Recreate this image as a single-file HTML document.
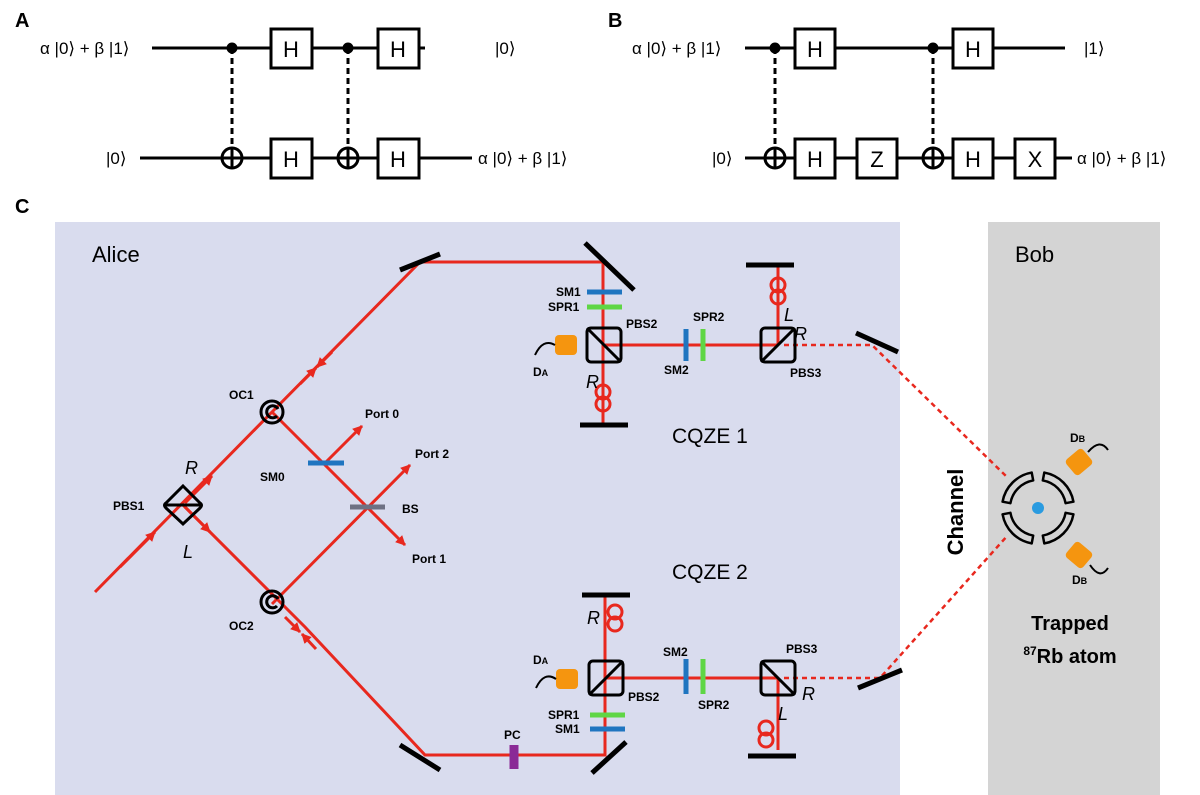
<!DOCTYPE html>
<html><head><meta charset="utf-8"><style>
body{margin:0;background:#fff}
svg{display:block}
text{font-family:"Liberation Sans",sans-serif}
.m{font-family:"Liberation Serif",serif;font-size:17px}
.b{font-weight:bold;font-size:12px}
</style></head><body>
<svg width="1200" height="795" viewBox="0 0 1200 795">
<defs>
<marker id="ar" markerWidth="10" markerHeight="10" refX="9" refY="5" orient="auto" markerUnits="userSpaceOnUse"><path d="M0,0 L10,5 L0,10 Z" fill="#e8281e"/></marker>
<path id="plate" d="M29.5,-20.6 A36,36 0 0 1 29.5,20.6 L22.9,16.1 A28,28 0 0 0 22.9,-16.1 Z"/>
</defs>
<g stroke="#000" stroke-width="3" fill="#fff">
<line x1="152" y1="48" x2="425" y2="48"/><line x1="140" y1="158" x2="472" y2="158"/>
<line x1="232" y1="48" x2="232" y2="148" stroke-dasharray="6,4"/><line x1="348" y1="48" x2="348" y2="148" stroke-dasharray="6,4"/>
<circle cx="232" cy="48" r="4" fill="#000"/><circle cx="348" cy="48" r="4" fill="#000"/>
<circle cx="232" cy="158" r="10" fill="none"/><line x1="232" y1="148" x2="232" y2="168"/>
<circle cx="348" cy="158" r="10" fill="none"/><line x1="348" y1="148" x2="348" y2="168"/>
<rect x="271" y="29" width="41" height="39"/><rect x="378" y="29" width="41" height="39"/>
<rect x="271" y="139" width="41" height="39"/><rect x="378" y="139" width="41" height="39"/>
<line x1="745" y1="48" x2="1065" y2="48"/><line x1="745" y1="158" x2="1072" y2="158"/>
<line x1="775" y1="48" x2="775" y2="148" stroke-dasharray="6,4"/><line x1="933" y1="48" x2="933" y2="148" stroke-dasharray="6,4"/>
<circle cx="775" cy="48" r="4" fill="#000"/><circle cx="933" cy="48" r="4" fill="#000"/>
<circle cx="775" cy="158" r="10" fill="none"/><line x1="775" y1="148" x2="775" y2="168"/>
<circle cx="933" cy="158" r="10" fill="none"/><line x1="933" y1="148" x2="933" y2="168"/>
<rect x="795" y="29" width="40" height="39"/><rect x="953" y="29" width="40" height="39"/>
<rect x="795" y="139" width="40" height="39"/><rect x="857" y="139" width="40" height="39"/>
<rect x="953" y="139" width="40" height="39"/><rect x="1015" y="139" width="40" height="39"/>
</g>
<g font-size="22" text-anchor="middle">
<text x="291" y="57">H</text><text x="398" y="57">H</text><text x="291" y="167">H</text><text x="398" y="167">H</text>
<text x="815" y="57">H</text><text x="973" y="57">H</text><text x="815" y="167">H</text><text x="877" y="167">Z</text><text x="973" y="167">H</text><text x="1035" y="167">X</text>
</g>
<g class="m">
<text x="40" y="54">α |0⟩ + β |1⟩</text><text x="495" y="54">|0⟩</text>
<text x="106" y="164">|0⟩</text><text x="478" y="164">α |0⟩ + β |1⟩</text>
<text x="632" y="54">α |0⟩ + β |1⟩</text><text x="1084" y="54">|1⟩</text>
<text x="712" y="164">|0⟩</text><text x="1077" y="164">α |0⟩ + β |1⟩</text>
</g>
<g font-weight="bold" font-size="20"><text x="15" y="27">A</text><text x="608" y="27">B</text><text x="15" y="213">C</text></g>
<rect x="55" y="222" width="845" height="573" fill="#d9dcee"/>
<rect x="988" y="222" width="172" height="573" fill="#d4d4d4"/>
<text x="92" y="262" font-size="22">Alice</text><text x="1015" y="262" font-size="22">Bob</text>
<g stroke="#e8281e" stroke-width="3" fill="none">
<polyline points="95,592 272,412 420,262 603,262 603,425"/>
<line x1="603" y1="345" x2="778" y2="345"/><line x1="778" y1="345" x2="778" y2="265"/>
<polyline points="183,505 305,627 425,755 605,755 605,595"/>
<line x1="605" y1="678" x2="778" y2="678"/><line x1="778" y1="678" x2="778" y2="750"/>
<line x1="272" y1="412" x2="405" y2="545" marker-end="url(#ar)"/>
<line x1="325" y1="463" x2="362" y2="426" marker-end="url(#ar)"/>
<line x1="272" y1="604" x2="410" y2="465" marker-end="url(#ar)"/>
<line x1="120" y1="567" x2="155" y2="532" marker-end="url(#ar)"/>
<line x1="185" y1="503" x2="212" y2="476" marker-end="url(#ar)"/>
<line x1="185" y1="507" x2="210" y2="532" marker-end="url(#ar)"/>
<line x1="300" y1="384" x2="316" y2="368" marker-end="url(#ar)"/>
<line x1="332" y1="352" x2="317" y2="367" marker-end="url(#ar)"/>
<line x1="285" y1="617" x2="300" y2="632" marker-end="url(#ar)"/>
<line x1="316" y1="649" x2="302" y2="634" marker-end="url(#ar)"/>
</g>
<g stroke="#e8281e" stroke-width="2.5" fill="none" stroke-dasharray="5,4">
<polyline points="784,345 872,345 1008,478"/>
<polyline points="784,678 880,678 1008,535"/>
</g>
<g stroke="#e8281e" stroke-width="3" fill="none">
<ellipse cx="778" cy="285" rx="7" ry="7"/><ellipse cx="778" cy="297" rx="7" ry="7"/>
<ellipse cx="603" cy="392" rx="7" ry="7"/><ellipse cx="603" cy="404" rx="7" ry="7"/>
<ellipse cx="615" cy="612" rx="7" ry="7"/><ellipse cx="615" cy="624" rx="7" ry="7"/>
<ellipse cx="766" cy="728" rx="7" ry="7"/><ellipse cx="766" cy="740" rx="7" ry="7"/>
</g>
<g stroke="#000" stroke-width="5">
<line x1="400" y1="270" x2="440" y2="254"/><line x1="585" y1="243" x2="634" y2="290"/>
<line x1="580" y1="425" x2="628" y2="425"/><line x1="746" y1="265" x2="794" y2="265"/>
<line x1="856" y1="333" x2="898" y2="352"/>
<line x1="582" y1="595" x2="630" y2="595"/><line x1="748" y1="756" x2="796" y2="756"/>
<line x1="400" y1="745" x2="440" y2="770"/><line x1="592" y1="773" x2="626" y2="742"/>
<line x1="858" y1="688" x2="902" y2="670"/>
</g>
<g stroke="#000" stroke-width="3" fill="none">
<rect x="587" y="328" width="34" height="34" rx="4"/><line x1="587" y1="328" x2="621" y2="362"/>
<rect x="761" y="328" width="34" height="34" rx="4"/><line x1="761" y1="362" x2="795" y2="328"/>
<rect x="589" y="661" width="34" height="34" rx="4"/><line x1="589" y1="695" x2="623" y2="661"/>
<rect x="761" y="661" width="34" height="34" rx="4"/><line x1="761" y1="661" x2="795" y2="695"/>
<path d="M183,486 L200,503 Q203,505 200,508 L183,524 L166,508 Q163,505 166,503 Z"/><line x1="165" y1="505" x2="202" y2="505"/>
<circle cx="272" cy="412" r="11"/><path d="M277,416 A6,6 0 1 1 278,409"/>
<circle cx="272" cy="602" r="11"/><path d="M277,606 A6,6 0 1 1 278,599"/>
</g>
<g stroke-width="5">
<line x1="587" y1="292" x2="622" y2="292" stroke="#1f75c0"/><line x1="587" y1="307" x2="622" y2="307" stroke="#5fd645"/>
<line x1="686" y1="329" x2="686" y2="361" stroke="#1f75c0"/><line x1="703" y1="329" x2="703" y2="361" stroke="#5fd645"/>
<line x1="590" y1="715" x2="625" y2="715" stroke="#5fd645"/><line x1="590" y1="729" x2="625" y2="729" stroke="#1f75c0"/>
<line x1="686" y1="659" x2="686" y2="694" stroke="#1f75c0"/><line x1="703" y1="659" x2="703" y2="694" stroke="#5fd645"/>
<line x1="308" y1="463" x2="344" y2="463" stroke="#1f75c0"/>
<line x1="350" y1="507" x2="385" y2="507" stroke="#6e7183"/>
<line x1="514" y1="745" x2="514" y2="769" stroke="#8a2a96" stroke-width="9"/>
</g>
<g fill="#f5950f">
<rect x="555" y="335" width="22" height="20" rx="4"/><rect x="556" y="669" width="22" height="20" rx="4"/>
<rect x="1068" y="452" width="22" height="20" rx="4" transform="rotate(-40 1079 462)"/>
<rect x="1068" y="545" width="22" height="20" rx="4" transform="rotate(40 1079 555)"/>
</g>
<g stroke="#000" stroke-width="2" fill="none">
<path d="M535,355 Q543,338 555,345"/><path d="M536,688 Q544,671 556,679"/>
<path d="M1088,452 Q1100,438 1108,450"/><path d="M1090,565 Q1100,580 1108,568"/>
</g>
<g stroke="#000" stroke-width="2.5" fill="none" stroke-linejoin="round">
<use href="#plate" transform="translate(1038,508) rotate(-135)"/>
<use href="#plate" transform="translate(1038,508) rotate(-45)"/>
<use href="#plate" transform="translate(1038,508) rotate(45)"/>
<use href="#plate" transform="translate(1038,508) rotate(135)"/>
</g>
<circle cx="1038" cy="508" r="6" fill="#2a9be0"/>
<g class="b">
<text x="556" y="296">SM1</text><text x="548" y="311">SPR1</text><text x="626" y="328">PBS2</text>
<text x="693" y="321">SPR2</text><text x="664" y="374">SM2</text><text x="790" y="377">PBS3</text>
<text x="533" y="376">D<tspan font-size="9">A</tspan></text>
<text x="533" y="664">D<tspan font-size="9">A</tspan></text>
<text x="663" y="656">SM2</text><text x="786" y="653">PBS3</text><text x="628" y="701">PBS2</text>
<text x="698" y="709">SPR2</text><text x="548" y="719">SPR1</text><text x="555" y="733">SM1</text><text x="504" y="739">PC</text>
<text x="365" y="418">Port 0</text><text x="415" y="458">Port 2</text><text x="402" y="513">BS</text><text x="412" y="563">Port 1</text>
<text x="260" y="481">SM0</text><text x="229" y="399">OC1</text><text x="229" y="630">OC2</text><text x="113" y="510">PBS1</text>
<text x="1070" y="442">D<tspan font-size="9">B</tspan></text><text x="1072" y="584">D<tspan font-size="9">B</tspan></text>
</g>
<g font-style="italic" font-size="18">
<text x="586" y="388">R</text><text x="784" y="321">L</text><text x="794" y="340">R</text>
<text x="587" y="624">R</text><text x="802" y="700">R</text><text x="778" y="720">L</text>
<text x="185" y="474">R</text><text x="183" y="558">L</text>
</g>
<text x="672" y="443" font-size="21">CQZE 1</text><text x="672" y="579" font-size="21">CQZE 2</text>
<text transform="translate(963,512) rotate(-90)" text-anchor="middle" font-size="22" font-weight="bold">Channel</text>
<g font-weight="bold" font-size="20" text-anchor="middle">
<text x="1070" y="630">Trapped</text><text x="1070" y="663"><tspan font-size="12" dy="-8">87</tspan><tspan dy="8">Rb atom</tspan></text>
</g>
</svg>
</body></html>
